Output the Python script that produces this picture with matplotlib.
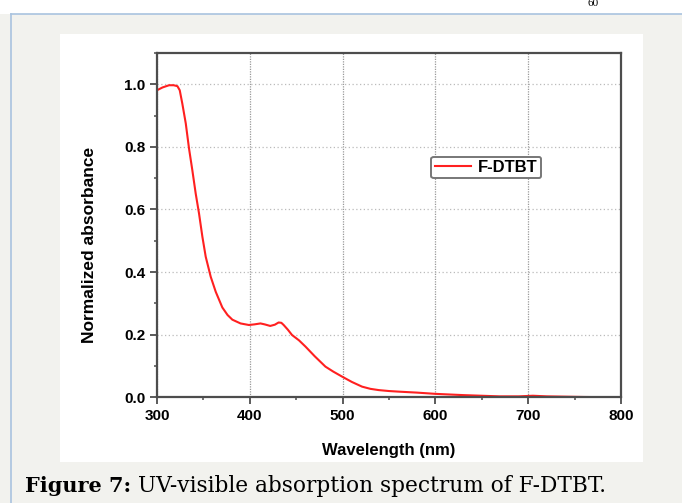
import numpy as np
import matplotlib.pyplot as plt
import matplotlib.ticker as ticker
from matplotlib.patches import Rectangle
from matplotlib.lines import Line2D

# spectrum
wavelength = [300, 306, 313, 318, 322, 324.5, 327.3, 331, 334.5, 338.1, 341.7,
              345.3, 348.9, 352.5, 357.9, 363.3, 370.4, 376, 381.2, 390, 399,
              405, 411.5, 416, 422, 427, 431, 434, 436.5, 441, 445.5, 453, 460,
              470, 481.5, 490, 499.5, 510, 521, 530, 539, 550, 561, 580, 600,
              630, 669, 690, 705, 720, 740, 760, 800]
absorbance = [0.981, 0.99, 0.997, 0.997, 0.994, 0.981, 0.938, 0.875, 0.795,
              0.725, 0.651, 0.587, 0.513, 0.449, 0.385, 0.337, 0.287, 0.263,
              0.248, 0.236, 0.231, 0.233, 0.236, 0.233, 0.228, 0.232, 0.239,
              0.238, 0.231, 0.216, 0.199, 0.182, 0.162, 0.131, 0.098, 0.082,
              0.066, 0.049, 0.034, 0.027, 0.023, 0.020, 0.018, 0.015, 0.011,
              0.007, 0.003, 0.003, 0.005, 0.003, 0.002, 0.001, 0.0]

font = {'family': 'Liberation Sans', 'weight': 'bold', 'size': 12}


def main():
    fig = plt.figure(figsize=(6.82, 5.03), dpi=100)
    fig.patch.set_facecolor('#f2f2ee')
    W, H = 682, 503

    # page decorations
    fig.patches.append(Rectangle((0, 1 - 14 / H), 1, 14 / H, transform=fig.transFigure,
                                 facecolor='white', edgecolor='none', zorder=-2))
    fig.lines.append(Line2D([11 / W, 1], [1 - 14 / H, 1 - 14 / H], transform=fig.transFigure,
                            color='#a9c3df', lw=1.2, zorder=-1))
    fig.lines.append(Line2D([11 / W, 11 / W], [0, 1 - 14 / H], transform=fig.transFigure,
                            color='#a9c3df', lw=1.2, zorder=-1))
    fig.patches.append(Rectangle((60 / W, 1 - 462 / H), 583 / W, 428 / H,
                                 transform=fig.transFigure, facecolor='white',
                                 edgecolor='none', zorder=-2))
    fig.text(593 / W, 1 - 4 / H, '60', fontsize=8, family='Liberation Serif',
             ha='center', va='center')

    ax = fig.add_axes([157 / W, 1 - 397.3 / H, 464 / W, 344.3 / H])
    ax.set_facecolor('white')
    ax.plot(wavelength, absorbance, color='#ff2020', lw=1.5, label='F-DTBT')

    ax.set_xlim(300, 800)
    ax.set_ylim(0, 1.1)
    ax.set_xticks(np.arange(300, 801, 100))
    ax.set_yticks(np.arange(0, 1.01, 0.2))
    ax.xaxis.set_minor_locator(ticker.MultipleLocator(50))
    ax.yaxis.set_minor_locator(ticker.MultipleLocator(0.1))
    ax.yaxis.set_major_formatter(ticker.FormatStrFormatter('%.1f'))

    ax.grid(which='major', axis='x', color='#999999', ls=(0, (1, 1)), lw=0.9)
    ax.grid(which='major', axis='y', color='#bbbbbb', ls=(0, (1, 2)), lw=0.9)

    for s in ax.spines.values():
        s.set_color('#4d4d4d')
        s.set_linewidth(1.6)
    ax.tick_params(which='major', direction='out', length=5, width=1.3, color='#4d4d4d',
                   pad=3.5)
    ax.tick_params(which='minor', direction='out', length=2.5, width=1.1, color='#4d4d4d')
    for lab in ax.get_xticklabels() + ax.get_yticklabels():
        lab.set_fontproperties({'family': 'Liberation Sans', 'weight': 'bold', 'size': 11})

    ax.set_xlabel('Wavelength (nm)', fontdict=font)
    ax.set_ylabel('Normalized absorbance', fontdict=dict(font, size=12.5))
    ax.xaxis.set_label_coords(0.5, -(450 - 397.3) / 344.3)
    ax.xaxis.label.set_va('center')
    ax.yaxis.set_label_coords(-(157 - 90) / 464, (397.3 - 245) / 344.3)
    ax.yaxis.label.set_va('center')

    leg = ax.legend(loc='upper left', bbox_to_anchor=(0.595, 0.694), handlelength=2.2,
                    prop={'family': 'Liberation Sans', 'weight': 'bold', 'size': 12},
                    fancybox=True, framealpha=1, borderpad=0.1, handletextpad=0.4,
                    borderaxespad=0)
    leg.get_frame().set_edgecolor('#777777')
    leg.get_frame().set_linewidth(1.4)
    leg.get_frame().set_boxstyle('round', pad=0.1, rounding_size=0.15)

    # caption
    fig.text(25 / W, 1 - 486 / H, 'Figure 7:', fontsize=15, weight='bold',
             family='DejaVu Serif', va='center')
    fig.text(138 / W, 1 - 486 / H, 'UV-visible absorption spectrum of F-DTBT.',
             fontsize=15.6, family='DejaVu Serif', va='center')

    fig.savefig('out.png', dpi=100, facecolor=fig.get_facecolor())
    return True


if __name__ == "__main__":
    main()
